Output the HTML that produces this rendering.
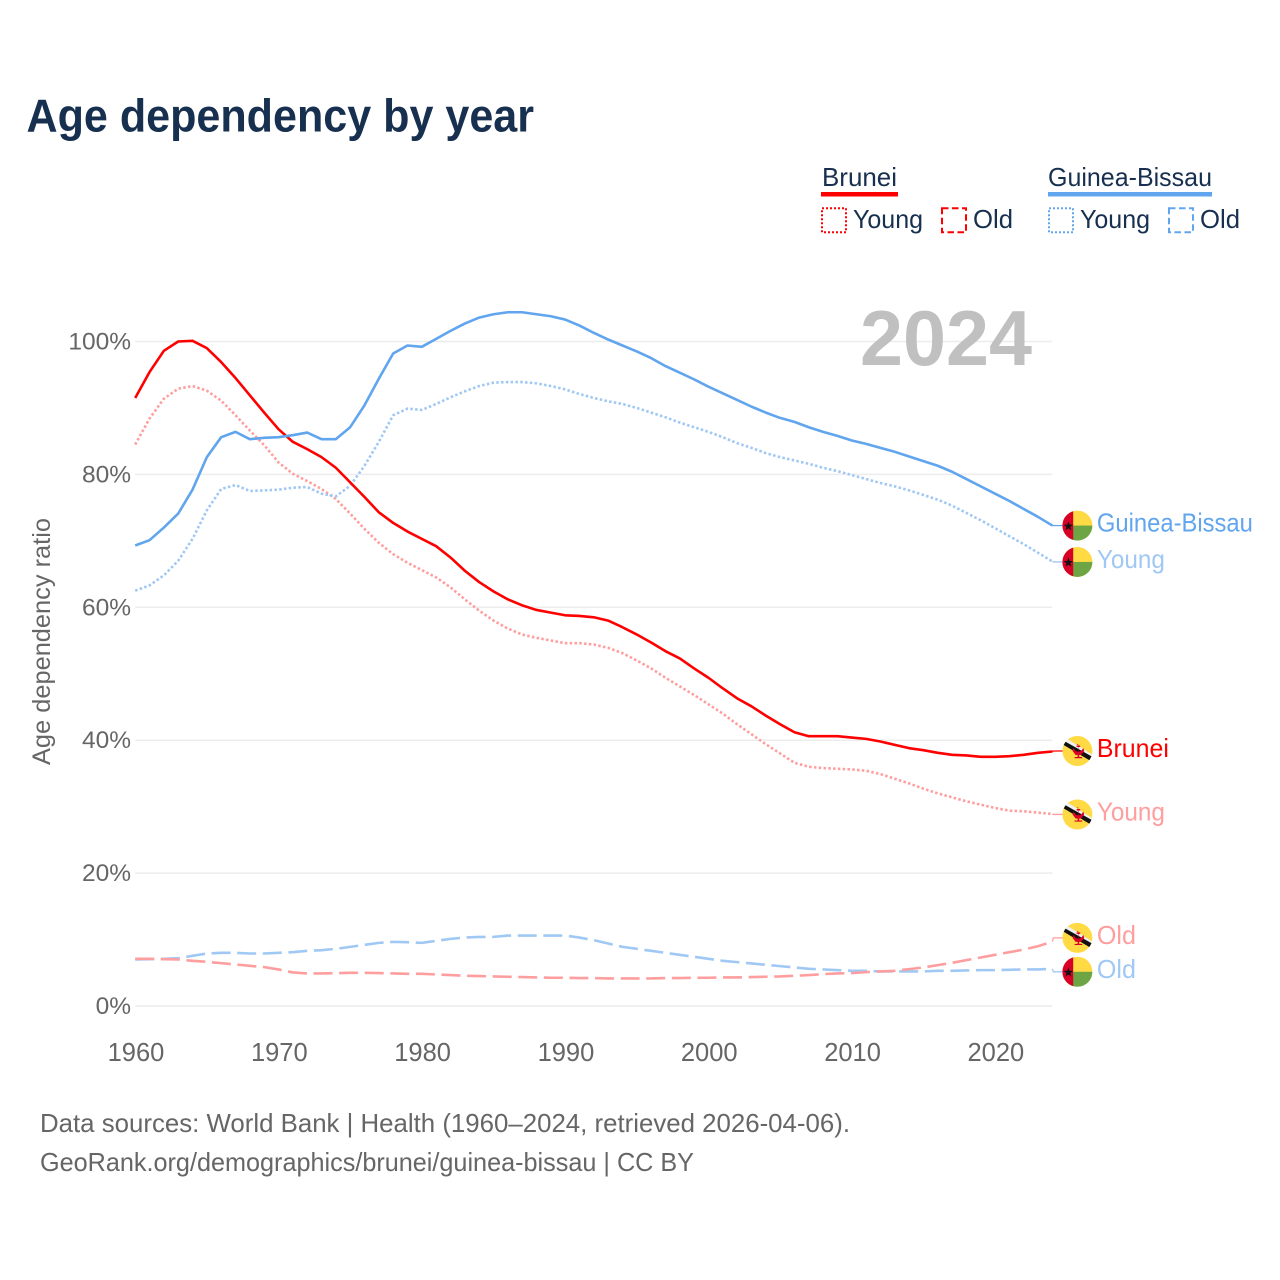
<!DOCTYPE html>
<html lang="en">
<head>
<meta charset="utf-8">
<title>Age dependency by year</title>
<style>
  html, body { margin: 0; padding: 0; background: #fff; }
  body { width: 1280px; height: 1280px; overflow: hidden; }
  svg { display: block; font-family: "Liberation Sans", sans-serif; }
</style>
</head>
<body>
<svg id="chart" xmlns="http://www.w3.org/2000/svg" width="1280" height="1280" viewBox="0 0 1280 1280">
  <rect x="0" y="0" width="1280" height="1280" fill="#ffffff"/>
  <text x="26.5" y="131.5" font-size="46" font-weight="700" fill="#17304f" textLength="507.5" lengthAdjust="spacingAndGlyphs">Age dependency by year</text>

  <g font-size="26" fill="#17304f">
    <g>
      <text x="822" y="186" textLength="75" lengthAdjust="spacingAndGlyphs">Brunei</text>
      <rect x="821" y="192" width="77" height="4.5" fill="#ff0000"/>
      <rect x="822" y="208.2" width="24" height="24" fill="none" stroke="#ff0000" stroke-width="2" stroke-dasharray="2 2"/>
      <text x="853" y="228" textLength="70" lengthAdjust="spacingAndGlyphs">Young</text>
      <rect x="942" y="208.2" width="24" height="24" fill="none" stroke="#ff0000" stroke-width="2" stroke-dasharray="6.5 3.5"/>
      <text x="973" y="228" textLength="40" lengthAdjust="spacingAndGlyphs">Old</text>
    </g>
    <g>
      <text x="1048" y="186" textLength="164" lengthAdjust="spacingAndGlyphs">Guinea-Bissau</text>
      <rect x="1048" y="192" width="164" height="4.5" fill="#60a5ee"/>
      <rect x="1049" y="208.2" width="24" height="24" fill="none" stroke="#60a5ee" stroke-width="2" stroke-dasharray="2 2"/>
      <text x="1080" y="228" textLength="70" lengthAdjust="spacingAndGlyphs">Young</text>
      <rect x="1169" y="208.2" width="24" height="24" fill="none" stroke="#60a5ee" stroke-width="2" stroke-dasharray="6.5 3.5"/>
      <text x="1200" y="228" textLength="40" lengthAdjust="spacingAndGlyphs">Old</text>
    </g>
  </g>

  <g id="grid"></g>
  <g id="y-ticks"></g>
  <g id="x-ticks"></g>
  <text transform="translate(50,765) rotate(-90)" font-size="25" fill="#666666" textLength="247" lengthAdjust="spacingAndGlyphs">Age dependency ratio</text>
  <text x="860" y="365" font-size="78" font-weight="700" fill="#c0c0c0" textLength="172" lengthAdjust="spacingAndGlyphs">2024</text>

  <g id="series"></g>
  <g id="labels"></g>

  <g font-size="26" fill="#666666">
    <text x="40" y="1132" textLength="810" lengthAdjust="spacingAndGlyphs">Data sources: World Bank | Health (1960–2024, retrieved 2026-04-06).</text>
    <text x="40" y="1171" textLength="654" lengthAdjust="spacingAndGlyphs">GeoRank.org/demographics/brunei/guinea-bissau | CC BY</text>
  </g>
</svg>

<script>
const years = [1960,1961,1962,1963,1964,1965,1966,1967,1968,1969,1970,1971,1972,1973,1974,1975,1976,1977,1978,1979,1980,1981,1982,1983,1984,1985,1986,1987,1988,1989,1990,1991,1992,1993,1994,1995,1996,1997,1998,1999,2000,2001,2002,2003,2004,2005,2006,2007,2008,2009,2010,2011,2012,2013,2014,2015,2016,2017,2018,2019,2020,2021,2022,2023,2024];
const bruneiTotal = [91.5,95.4,98.6,100.0,100.1,99.0,96.9,94.5,91.9,89.3,86.8,84.9,83.8,82.6,81.0,78.8,76.6,74.3,72.7,71.4,70.3,69.2,67.5,65.5,63.8,62.4,61.2,60.3,59.6,59.2,58.8,58.7,58.5,58.0,57.0,55.9,54.7,53.4,52.3,50.8,49.4,47.8,46.3,45.1,43.7,42.4,41.2,40.6,40.6,40.6,40.4,40.2,39.8,39.3,38.8,38.5,38.1,37.8,37.7,37.5,37.5,37.6,37.8,38.1,38.3];
const bruneiYoung = [84.5,88.4,91.4,92.9,93.3,92.6,91.1,88.9,86.6,84.4,81.8,80.1,79.0,77.8,76.3,74.1,71.8,69.7,68.0,66.7,65.6,64.5,63.0,61.2,59.5,58.0,56.8,55.9,55.4,55.0,54.6,54.6,54.4,53.9,53.1,52.0,50.8,49.4,48.1,46.8,45.4,44.0,42.4,40.9,39.4,38.0,36.6,36.0,35.8,35.7,35.6,35.4,34.9,34.2,33.5,32.7,32.0,31.4,30.8,30.3,29.8,29.4,29.3,29.1,28.9];
const bruneiOld = [7.1,7.1,7.05,7.0,6.8,6.65,6.45,6.25,6.05,5.85,5.5,5.05,4.9,4.9,4.95,5.0,5.0,4.95,4.9,4.85,4.85,4.75,4.65,4.55,4.5,4.45,4.4,4.35,4.3,4.25,4.25,4.2,4.2,4.15,4.15,4.15,4.15,4.2,4.2,4.25,4.25,4.3,4.3,4.35,4.4,4.45,4.55,4.65,4.8,4.9,4.95,5.1,5.2,5.3,5.55,5.8,6.15,6.5,6.9,7.3,7.7,8.1,8.5,9.0,9.7];
const guineaBissauTotal = [69.3,70.1,72.0,74.1,77.7,82.6,85.6,86.4,85.3,85.5,85.6,85.9,86.3,85.3,85.3,87.1,90.4,94.4,98.2,99.4,99.2,100.4,101.6,102.7,103.6,104.1,104.4,104.4,104.1,103.8,103.3,102.4,101.3,100.3,99.4,98.5,97.5,96.3,95.3,94.3,93.2,92.2,91.2,90.2,89.3,88.5,87.9,87.1,86.4,85.8,85.1,84.6,84.0,83.4,82.7,82.0,81.3,80.4,79.3,78.2,77.1,76.0,74.8,73.6,72.3];
const guineaBissauYoung = [62.5,63.3,64.8,67.0,70.3,74.6,77.8,78.4,77.5,77.6,77.7,78.0,78.1,77.1,76.7,78.3,81.3,84.9,88.9,89.9,89.7,90.6,91.6,92.5,93.3,93.8,93.9,93.9,93.7,93.3,92.8,92.1,91.5,91.0,90.6,90.0,89.3,88.6,87.8,87.1,86.4,85.6,84.7,84.0,83.2,82.6,82.1,81.6,81.0,80.5,79.9,79.3,78.7,78.2,77.6,76.9,76.2,75.3,74.2,73.1,71.9,70.7,69.5,68.2,66.9];
const guineaBissauOld = [7.0,7.05,7.1,7.2,7.55,7.9,8.0,8.0,7.9,7.9,8.0,8.1,8.3,8.4,8.6,8.9,9.2,9.5,9.65,9.6,9.5,9.8,10.1,10.3,10.4,10.4,10.6,10.6,10.6,10.6,10.6,10.3,9.9,9.4,8.9,8.6,8.3,8.0,7.7,7.4,7.1,6.8,6.6,6.4,6.2,6.0,5.8,5.6,5.5,5.4,5.3,5.3,5.2,5.2,5.2,5.2,5.3,5.3,5.35,5.4,5.4,5.45,5.5,5.5,5.6];
const yTickValues = [0,20,40,60,80,100];
const yTickLabels = ["0%","20%","40%","60%","80%","100%"];
const xTickValues = [1960,1970,1980,1990,2000,2010,2020];
const xTickLabels = ["1960","1970","1980","1990","2000","2010","2020"];

const NS = "http://www.w3.org/2000/svg";
const X0 = 135.2, X1 = 1052.4, Y0 = 1006, Y100 = 341.5;
const COLORS = { red: "#ff0000", blue: "#60a5ee", paleRed: "#ff9e9e", paleBlue: "#a0c8f4" };
const DOTTED = "2.5 2.3", DASHED = "19 6.6";

function xScale(year) {
  return X0 + (year - years[0]) / (years[years.length - 1] - years[0]) * (X1 - X0);
}
function yScale(value) {
  return Y0 + value / 100 * (Y100 - Y0);
}
function make(tag, attrs, parent) {
  const el = document.createElementNS(NS, tag);
  for (const k in attrs) el.setAttribute(k, attrs[k]);
  parent.appendChild(el);
  return el;
}

const gridGroup = document.getElementById("grid");
const yTickGroup = document.getElementById("y-ticks");
yTickValues.forEach(function (v, i) {
  const line = make("line", { x1: X0, x2: X1, y1: yScale(v), y2: yScale(v), stroke: "#ececec", "stroke-width": 1.5 }, gridGroup);
  
  
  const t = make("text", { x: 131, y: yScale(v) + 8, "text-anchor": "end", "font-size": 24.5, fill: "#666666" }, yTickGroup);
  t.textContent = yTickLabels[i];
  
  
});

const xTickGroup = document.getElementById("x-ticks");
xTickValues.forEach(function (v, i) {
  const t = make("text", { x: xScale(v) + 0.8, y: 1061, "text-anchor": "middle", "font-size": 25.5, fill: "#666666" }, xTickGroup);
  t.textContent = xTickLabels[i];
  
  
});

const seriesGroup = document.getElementById("series");
function drawSeries(values, name, color, dash, labelColor, labelOffset) {
  const pts = values.map(function (v, i) { return xScale(years[i]).toFixed(2) + "," + yScale(v).toFixed(2); }).join(" ");
  const attrs = { points: pts, fill: "none", stroke: color, "stroke-width": 2.6, "stroke-linejoin": "round" };
  if (dash) attrs["stroke-dasharray"] = dash;
  const line = make("polyline", attrs, seriesGroup);
  
  
  const lastX = xScale(years[years.length - 1]);
  const lastY = yScale(values[values.length - 1]);
  const labelY = lastY + labelOffset;
  const link = make("polyline", {
    points: lastX + "," + lastY + " " + (lastX + 1) + "," + labelY + " " + (lastX + 11) + "," + labelY,
    fill: "none", stroke: labelColor, "stroke-width": 1.3
  }, seriesGroup);
  
  
  return labelY;
}

drawSeries(guineaBissauOld, "line-guinea-bissau-old", COLORS.paleBlue, DASHED, COLORS.paleBlue, 3);
drawSeries(bruneiOld, "line-brunei-old", COLORS.paleRed, DASHED, COLORS.paleRed, -3.7);
drawSeries(bruneiYoung, "line-brunei-young", COLORS.paleRed, DOTTED, COLORS.paleRed, 0.5);
drawSeries(guineaBissauYoung, "line-guinea-bissau-young", COLORS.paleBlue, DOTTED, COLORS.paleBlue, 0.5);
const bruneiLabelOffset = -0.5;
drawSeries(bruneiTotal, "line-brunei-total", COLORS.red, null, COLORS.red, bruneiLabelOffset);
drawSeries(guineaBissauTotal, "line-guinea-bissau-total", COLORS.blue, null, COLORS.blue, 0);

const labelGroup = document.getElementById("labels");
let clipCounter = 0;
function flagGuineaBissau(g, r) {
  const b = make("rect", { x: -r, y: -r, width: r * 2, height: r * 2, fill: "#ffda44" }, g);
  
  
  const green = make("rect", { x: -r, y: 0, width: r * 2, height: r, fill: "#6da544" }, g);
  
  
  const red = make("rect", { x: -r, y: -r, width: r * 0.72, height: r * 2, fill: "#d80027" }, g);
  
  
  const star = make("polygon", { points: "-9,-4.4 -7.8,-0.9 -4.2,-0.9 -7.1,1.3 -6,4.8 -9,2.7 -12,4.8 -10.9,1.3 -13.8,-0.9 -10.2,-0.9", fill: "#111111" }, g);
  
  
}
function flagBrunei(g, r) {
  const b = make("rect", { x: -r, y: -r, width: r * 2, height: r * 2, fill: "#ffda44" }, g);
  
  
  const white = make("polygon", { points: "-17,-10 -13,-14 17,5 15,9", fill: "#f0f0f0" }, g);
  
  
  const black = make("polygon", { points: "-17,-8 -15,-11 17,7 15,11", fill: "#111111" }, g);
  
  
  const emblem = make("path", { d: "M-0.8,-7 h1.6 v1.5 h2 v1.5 h-2 v5 l3,-1 l2.2,-3 l0.8,3 l-3,4 h-2 v2 h3 v1.2 h-7.6 v-1.2 h3 v-2 h-2 l-3,-4 l0.8,-3 l2.2,3 l3,1 v-5 h-2 v-1.5 h2 z", fill: "#d80027" }, g);
  
  
}
function drawLabel(values, text, color, offset, flagFn, width) {
  const cy = yScale(values[values.length - 1]) + offset;
  const cx = xScale(years[years.length - 1]) + 25;
  const r = 15;
  const id = "flag-clip-" + (clipCounter++);
  const clip = make("clipPath", { id: id }, labelGroup);
  make("circle", { cx: 0, cy: 0, r: r }, clip);
  const g = make("g", { transform: "translate(" + cx + "," + cy + ")", "clip-path": "url(#" + id + ")" }, labelGroup);
  
  
  flagFn(g, r);
  const t = make("text", { x: cx + 19.5, y: cy + 6, "font-size": 26, fill: color, textLength: width, lengthAdjust: "spacingAndGlyphs" }, labelGroup);
  t.textContent = text;
  
  
}
drawLabel(guineaBissauTotal, "Guinea-Bissau", COLORS.blue, 0, flagGuineaBissau, 156);
drawLabel(guineaBissauYoung, "Young", COLORS.paleBlue, 0.5, flagGuineaBissau, 68);
drawLabel(bruneiTotal, "Brunei", COLORS.red, bruneiLabelOffset, flagBrunei, 72);
drawLabel(bruneiYoung, "Young", COLORS.paleRed, 0.5, flagBrunei, 68);
drawLabel(bruneiOld, "Old", COLORS.paleRed, -3.7, flagBrunei, 39);
drawLabel(guineaBissauOld, "Old", COLORS.paleBlue, 3, flagGuineaBissau, 39);
</script>
</body>
</html>
